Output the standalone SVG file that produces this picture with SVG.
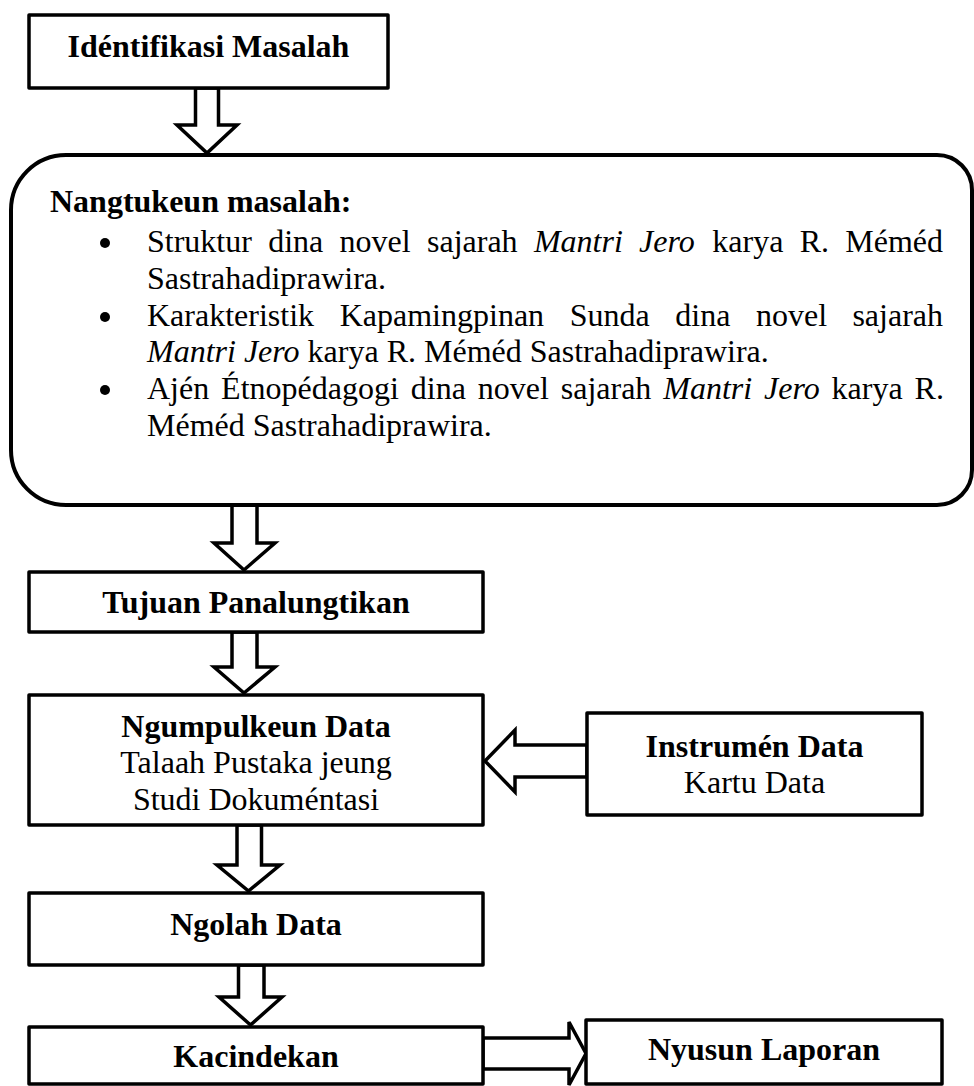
<svg xmlns="http://www.w3.org/2000/svg" width="974" height="1086" viewBox="0 0 974 1086">
<style>
.box{fill:#fff;stroke:#000;stroke-width:3.5;stroke-linejoin:round}
.rbox{fill:#fff;stroke:#000;stroke-width:4}
.arr{fill:#fff;stroke:#000;stroke-width:3.5;stroke-linejoin:miter}
text{font-family:"Liberation Serif","Times New Roman",serif;font-size:32px;fill:#000}
.b{font-weight:bold}
.c{text-anchor:middle}
.e{text-anchor:end}
.i{font-style:italic}
</style>
<rect width="974" height="1086" fill="#fff"/>
<g id="connectors">
<polygon class="arr" points="195.5,88 218.5,88 218.5,125 237,125 207,153 177,125 195.5,125"/>
<polygon class="arr" points="232,505 257,505 257,543 275,543 244,570 214,543 232,543"/>
<polygon class="arr" points="232,632 257,632 257,667 275,667 244,693 214,667 232,667"/>
<polygon class="arr" points="237,825 261.5,825 261.5,865 280,865 248.5,891 217,865 237,865"/>
<polygon class="arr" points="238.5,965 264,965 264,997 282,997 250.5,1025 219,997 238.5,997"/>
<polygon class="arr" points="587,745 515,745 515,730 485,761 515,792 515,777 587,777"/>
<polygon class="arr" points="483,1038 569,1038 569,1022 586,1053.5 569,1085 569,1069 483,1069"/>
</g>
<g id="n1">
<rect class="box" x="29" y="15" width="359" height="73"/>
<text class="b c" x="208.5" y="57">Idéntifikasi Masalah</text>
</g>
<g id="n2">
<path class="rbox" d="M66 155 H937 A35 35 0 0 1 972 190 V470 A35 35 0 0 1 937 505 H66 A55 55 0 0 1 11 450 V210 A55 55 0 0 1 66 155 Z"/>
<text class="b" x="50" y="212">Nangtukeun masalah:</text>
<circle cx="105" cy="243" r="5"/>
<circle cx="105" cy="317" r="5"/>
<circle cx="105" cy="390" r="5"/>
<text y="252"><tspan x="147">Struktur</tspan><tspan x="268.2">dina</tspan><tspan x="339.6">novel</tspan><tspan x="427">sajarah</tspan><tspan class="i" x="533.9">Mantri</tspan><tspan class="i" x="639.1">Jero</tspan><tspan x="712.3">karya</tspan><tspan x="799.7">R.</tspan><tspan class="e" x="943">Méméd</tspan></text>
<text x="147" y="288.8">Sastrahadiprawira.</text>
<text y="325.6"><tspan x="147">Karakteristik</tspan><tspan x="339.7">Kapamingpinan</tspan><tspan x="569.7">Sunda</tspan><tspan x="675.3">dina</tspan><tspan x="756">novel</tspan><tspan class="e" x="943">sajarah</tspan></text>
<text x="147" y="362.4"><tspan class="i">Mantri Jero</tspan> karya R. Méméd Sastrahadiprawira.</text>
<text x="147" y="399.2" word-spacing="3.9">Ajén Étnopédagogi dina novel sajarah <tspan class="i">Mantri Jero</tspan> karya R.</text>
<text x="147" y="436">Méméd Sastrahadiprawira.</text>
</g>
<g id="n3">
<rect class="box" x="29" y="572" width="454" height="60"/>
<text class="b c" x="256" y="613">Tujuan Panalungtikan</text>
</g>
<g id="n4">
<rect class="box" x="29" y="695" width="454" height="130"/>
<text class="b c" x="256" y="737">Ngumpulkeun Data</text>
<text class="c" x="256" y="773">Talaah Pustaka jeung</text>
<text class="c" x="256" y="810">Studi Dokuméntasi</text>
</g>
<g id="n5">
<rect class="box" x="587" y="713" width="335" height="102"/>
<text class="b c" x="754.5" y="757">Instrumén Data</text>
<text class="c" x="754.5" y="793">Kartu Data</text>
</g>
<g id="n6">
<rect class="box" x="29" y="893" width="454" height="72"/>
<text class="b c" x="256" y="935">Ngolah Data</text>
</g>
<g id="n7">
<rect class="box" x="29" y="1027" width="454" height="57"/>
<text class="b c" x="256" y="1067">Kacindekan</text>
</g>
<g id="n8">
<rect class="box" x="586" y="1020" width="356" height="64"/>
<text class="b c" x="764" y="1060">Nyusun Laporan</text>
</g>
</svg>
